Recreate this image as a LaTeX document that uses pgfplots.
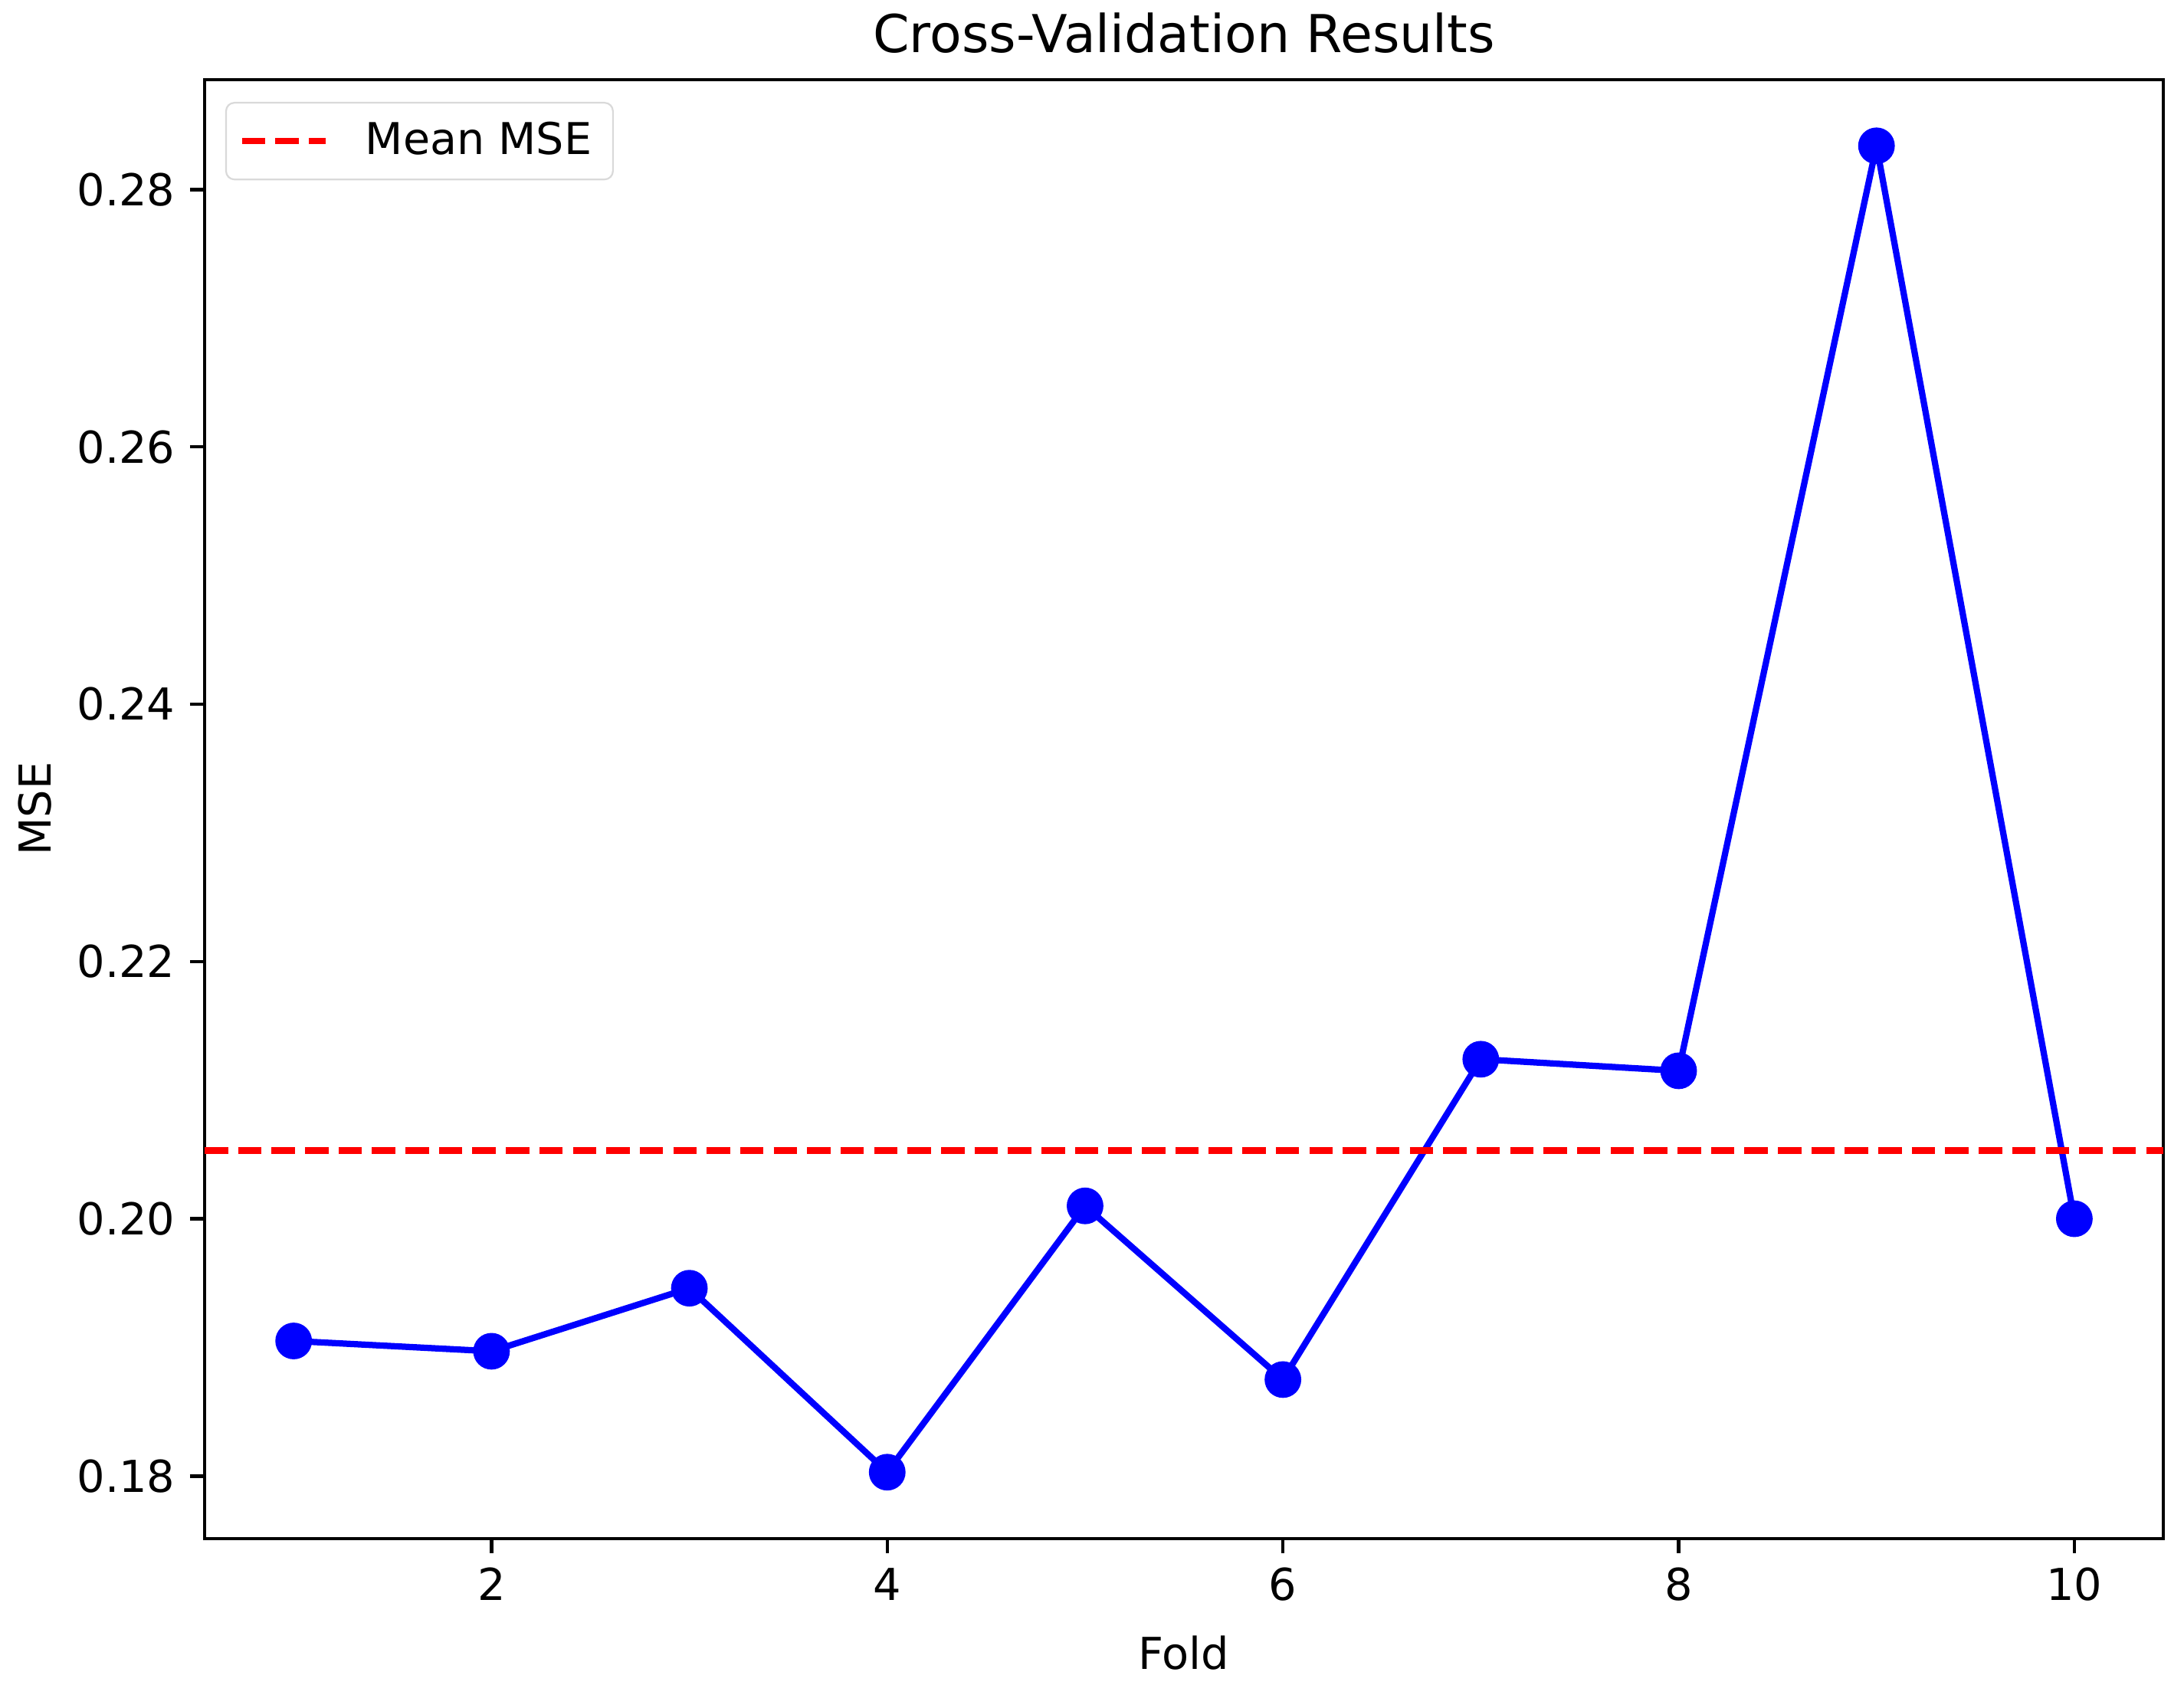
\documentclass[border=0pt]{standalone}
\usepackage{fontspec}
\setmainfont{DejaVu Sans}
\usepackage{pgfplots}
\pgfplotsset{compat=1.18}
\begin{document}
\begin{tikzpicture}
\begin{axis}[
  scale only axis,
  width=465.2pt, height=346.5pt,
  xmin=0.55, xmax=10.45, ymin=0.17515, ymax=0.28855,
  xtick={2,4,6,8,10},
  ytick={0.18,0.20,0.22,0.24,0.26,0.28},
  yticklabel style={/pgf/number format/.cd, fixed, fixed zerofill, precision=2},
  /pgf/number format/assume math mode=true,
  tick align=outside, tick pos=left,
  major tick length=3.5pt,
  tick style={black, line width=0.8pt},
  axis line style={black, line width=0.8pt},
  ticklabel style={font=\fontsize{10.45}{12}\selectfont},
  title={Cross-Validation Results},
  title style={font=\fontsize{12.4}{14}\selectfont, at={(axis description cs:0.5,1)}, anchor=base, yshift=0.4pt},
  xlabel={Fold},
  xlabel style={font=\fontsize{10.45}{12}\selectfont, at={(axis description cs:0.5,-0.0895)}, anchor=base},
  ylabel={MSE},
  ylabel style={font=\fontsize{10.45}{12}\selectfont, at={(axis description cs:-0.0866,0.5)}, anchor=center, rotate=0},
  legend style={at={(axis description cs:0.0105,0.9847)}, anchor=north west,
    draw=black!15, rounded corners=2pt, fill=white,
    font=\fontsize{10.4}{12}\selectfont, inner xsep=3pt, inner ysep=2.5pt},
  legend cell align=left,
  legend image code/.code={\draw[#1] (0pt,0pt) -- (20pt,0pt); \path (26.6pt,0pt);},
]
\addplot[blue, line width=1.5pt, mark=*, mark size=3.6pt, mark options={solid, fill=blue, draw=blue}, forget plot]
  coordinates {(1,0.1905) (2,0.1897) (3,0.1946) (4,0.1803) (5,0.2010) (6,0.1875) (7,0.2124) (8,0.2115) (9,0.2834) (10,0.2000)};
\addplot[red, line width=1.5pt, dash pattern=on 5.55pt off 2.4pt]
  coordinates {(0.55,0.2053) (10.45,0.2053)};
\addlegendentry{Mean MSE}
\end{axis}
\pgfresetboundingbox
\path (current axis.south west) ++(-48.6pt,-34.8pt) rectangle ([xshift=4.9pt,yshift=18.9pt]current axis.north east);
\end{tikzpicture}
\end{document}
